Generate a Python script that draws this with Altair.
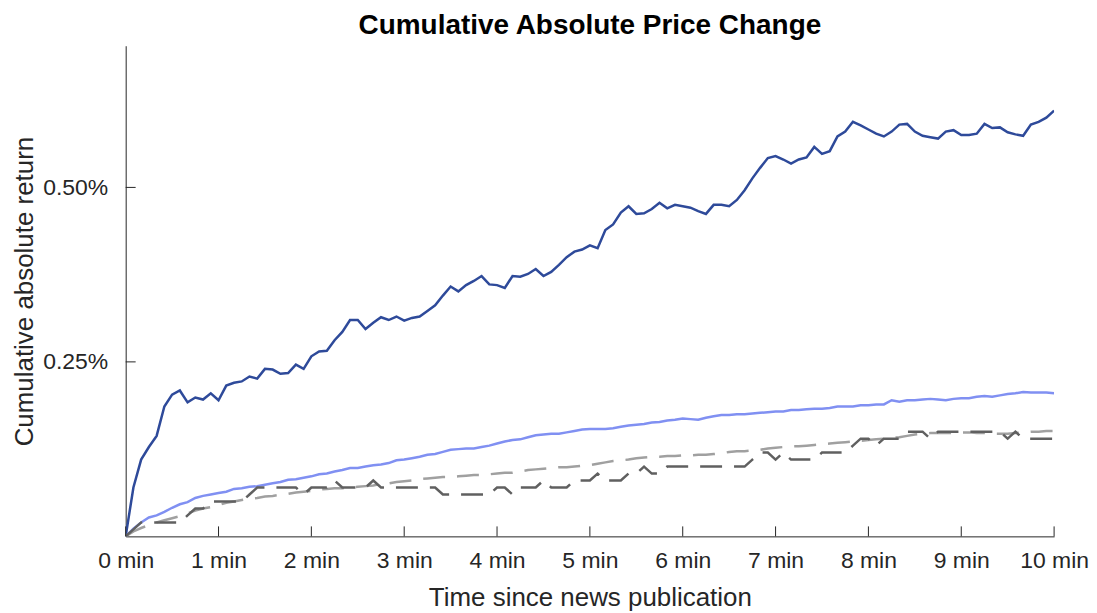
import altair as alt
import pandas as pd

# time since publication, 5-second steps (minutes)
minutes = [i * 5 / 60 for i in range(121)]

dark_blue = [
    0.000, 0.070, 0.110, 0.128, 0.144, 0.186, 0.203, 0.209, 0.192, 0.199,
    0.196, 0.205, 0.195, 0.216, 0.220, 0.222, 0.229, 0.226, 0.240, 0.239,
    0.233, 0.234, 0.246, 0.240, 0.258, 0.265, 0.266, 0.281, 0.293, 0.310,
    0.310, 0.297, 0.306, 0.314, 0.310, 0.315, 0.309, 0.313, 0.315, 0.323,
    0.331, 0.345, 0.358, 0.351, 0.360, 0.366, 0.373, 0.361, 0.360, 0.356,
    0.373, 0.372, 0.376, 0.383, 0.373, 0.379, 0.389, 0.400, 0.408, 0.411,
    0.417, 0.413, 0.439, 0.447, 0.464, 0.473, 0.462, 0.463, 0.469, 0.478,
    0.470, 0.475, 0.473, 0.471, 0.466, 0.462, 0.475, 0.475, 0.473, 0.482,
    0.496, 0.513, 0.528, 0.542, 0.545, 0.540, 0.534, 0.540, 0.543, 0.558,
    0.548, 0.552, 0.573, 0.580, 0.594, 0.589, 0.583, 0.577, 0.573, 0.580,
    0.590, 0.591, 0.580, 0.574, 0.572, 0.570, 0.580, 0.582, 0.575, 0.575,
    0.577, 0.591, 0.585, 0.586, 0.579, 0.576, 0.574, 0.590, 0.594, 0.600,
    0.610,
]

light_blue = [
    0.000, 0.011, 0.020, 0.027, 0.030, 0.035, 0.041, 0.046, 0.049, 0.055,
    0.058, 0.060, 0.062, 0.064, 0.068, 0.069, 0.071, 0.072, 0.074, 0.076,
    0.078, 0.081, 0.082, 0.084, 0.086, 0.089, 0.090, 0.093, 0.095, 0.098,
    0.098, 0.100, 0.102, 0.103, 0.105, 0.109, 0.110, 0.112, 0.114, 0.117,
    0.118, 0.121, 0.124, 0.125, 0.126, 0.126, 0.128, 0.130, 0.133, 0.136,
    0.138, 0.139, 0.142, 0.145, 0.146, 0.147, 0.147, 0.149, 0.151, 0.153,
    0.154, 0.154, 0.154, 0.155, 0.157, 0.159, 0.160, 0.161, 0.163, 0.164,
    0.166, 0.167, 0.169, 0.168, 0.167, 0.170, 0.172, 0.174, 0.174, 0.175,
    0.175, 0.176, 0.177, 0.178, 0.179, 0.179, 0.181, 0.181, 0.182, 0.183,
    0.183, 0.184, 0.186, 0.186, 0.186, 0.188, 0.188, 0.189, 0.189, 0.195,
    0.193, 0.195, 0.195, 0.196, 0.197, 0.196, 0.195, 0.197, 0.198, 0.198,
    0.200, 0.201, 0.200, 0.202, 0.204, 0.205, 0.207, 0.206, 0.206, 0.206,
    0.205,
]

dark_gray = [
    0.00, 0.01, 0.02, 0.02, 0.02, 0.02, 0.02, 0.02, 0.03, 0.04,
    0.04, 0.05, 0.05, 0.05, 0.05, 0.05, 0.06, 0.07, 0.07, 0.07,
    0.07, 0.07, 0.07, 0.06, 0.07, 0.07, 0.07, 0.08, 0.07, 0.07,
    0.07, 0.07, 0.08, 0.07, 0.07, 0.07, 0.07, 0.07, 0.07, 0.07,
    0.07, 0.06, 0.06, 0.06, 0.06, 0.06, 0.06, 0.06, 0.07, 0.07,
    0.06, 0.07, 0.07, 0.07, 0.08, 0.07, 0.07, 0.07, 0.08, 0.08,
    0.08, 0.09, 0.08, 0.08, 0.08, 0.09, 0.09, 0.10, 0.09, 0.09,
    0.10, 0.10, 0.10, 0.10, 0.10, 0.10, 0.10, 0.10, 0.10, 0.10,
    0.10, 0.11, 0.12, 0.12, 0.11, 0.12, 0.11, 0.11, 0.11, 0.11,
    0.12, 0.12, 0.12, 0.12, 0.13, 0.14, 0.14, 0.13, 0.14, 0.14,
    0.14, 0.15, 0.15, 0.15, 0.14, 0.15, 0.15, 0.15, 0.15, 0.15,
    0.15, 0.15, 0.15, 0.15, 0.14, 0.15, 0.14, 0.14, 0.14, 0.14,
    0.14,
]

light_gray = [
    0.000, 0.007, 0.012, 0.016, 0.020, 0.023, 0.026, 0.029, 0.033, 0.037,
    0.040, 0.042, 0.045, 0.048, 0.050, 0.052, 0.054, 0.055, 0.057, 0.058,
    0.060, 0.061, 0.063, 0.064, 0.065, 0.067, 0.068, 0.069, 0.069, 0.070,
    0.071, 0.072, 0.073, 0.075, 0.076, 0.078, 0.079, 0.080, 0.082, 0.083,
    0.084, 0.085, 0.085, 0.086, 0.087, 0.088, 0.088, 0.089, 0.090, 0.091,
    0.091, 0.093, 0.095, 0.096, 0.097, 0.098, 0.099, 0.099, 0.100, 0.101,
    0.102, 0.104, 0.106, 0.108, 0.109, 0.110, 0.112, 0.113, 0.114, 0.114,
    0.115, 0.115, 0.116, 0.116, 0.117, 0.117, 0.118, 0.119, 0.121, 0.122,
    0.122, 0.123, 0.124, 0.126, 0.127, 0.128, 0.129, 0.129, 0.130, 0.131,
    0.132, 0.133, 0.134, 0.135, 0.136, 0.137, 0.138, 0.139, 0.140, 0.141,
    0.142, 0.144, 0.146, 0.147, 0.148, 0.148, 0.148, 0.148, 0.149, 0.149,
    0.148, 0.148, 0.147, 0.147, 0.147, 0.148, 0.149, 0.150, 0.150, 0.151,
    0.151,
]

x_ticks = [0, 1, 2, 3, 4, 5, 6, 7, 8, 9, 10]
y_ticks = [0.25, 0.50]

FONT = "Liberation Sans"
AXIS_COLOR = "#262626"
W, H = 931, 492

x_scale = alt.Scale(domain=[0, 10], nice=False, zero=False)
y_scale = alt.Scale(domain=[0, 0.703], nice=False)

x_axis = alt.Axis(
    values=x_ticks, labelExpr="datum.value + ' min'", grid=False,
    ticks=False, tickSize=0, labelPadding=13, labelFontSize=23,
    labelFont=FONT, labelColor=AXIS_COLOR, labelFlush=False, labelOverlap=False,
    domainColor=AXIS_COLOR, domainWidth=1,
    title="Time since news publication", titleFont=FONT, titleFontSize=26,
    titleFontWeight="normal", titleColor=AXIS_COLOR,
    titleX=W / 2, titleY=69, titleBaseline="alphabetic", titleAlign="center",
)
y_axis = alt.Axis(
    values=y_ticks, labelExpr="format(datum.value, '.2f') + '%'", grid=False,
    ticks=False, tickSize=0, labelPadding=18, labelFontSize=23,
    labelFont=FONT, labelColor=AXIS_COLOR, labelOverlap=False,
    domainColor=AXIS_COLOR, domainWidth=1,
    title="Cumulative absolute return", titleFont=FONT, titleFontSize=26,
    titleFontWeight="normal", titleColor=AXIS_COLOR,
    titleX=-93, titleY=H / 2, titleAngle=270, titleBaseline="alphabetic",
    titleAlign="center",
)


def series(values, color, dash=None):
    df = pd.DataFrame({"minutes": minutes, "ret": values})
    kw = dict(color=color, strokeWidth=2.5, clip=True)
    if dash is not None:
        kw["strokeDash"] = dash
    return alt.Chart(df).mark_line(**kw).encode(
        x=alt.X("minutes:Q", scale=x_scale, axis=x_axis),
        y=alt.Y("ret:Q", scale=y_scale, axis=y_axis),
    )


xt = pd.DataFrame({"minutes": x_ticks})
yt = pd.DataFrame({"ret": y_ticks})
x_tick_rules = alt.Chart(xt).mark_rule(color=AXIS_COLOR, strokeWidth=1).encode(
    x=alt.X("minutes:Q", scale=x_scale, axis=x_axis),
    y=alt.value(H), y2=alt.value(H - 10),
)
y_tick_rules = alt.Chart(yt).mark_rule(color=AXIS_COLOR, strokeWidth=1).encode(
    y=alt.Y("ret:Q", scale=y_scale, axis=y_axis),
    x=alt.value(0), x2=alt.value(10),
)

chart = alt.layer(
    series(dark_blue, "#2E4A9A"),
    series(light_blue, "#8090F2"),
    series(light_gray, "#A0A0A0", dash=[22, 12]),
    series(dark_gray, "#606060", dash=[22, 12]),
    x_tick_rules,
    y_tick_rules,
).properties(
    width=W, height=H,
    autosize=alt.AutoSizeParams(type="none"),
    padding={"left": 118, "top": 37, "right": 35, "bottom": 74},
    title=alt.TitleParams(
        "Cumulative Absolute Price Change", font=FONT, fontSize=28,
        fontWeight="bold", color="#000000", anchor="middle", offset=6,
    ),
).configure(
    background="white",
    view=alt.ViewConfig(stroke="transparent"),
)

chart.save("out.html", embed_options={"renderer": "svg", "actions": False})
